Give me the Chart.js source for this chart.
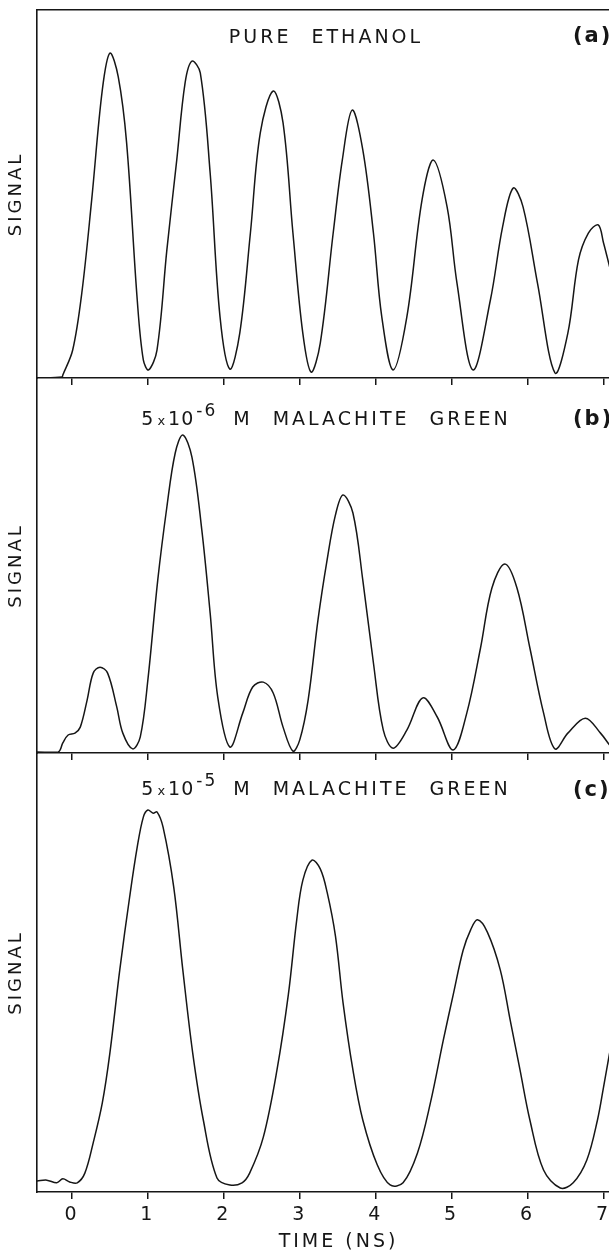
<!DOCTYPE html>
<html><head><meta charset="utf-8">
<script src="https://cdn.jsdelivr.net/npm/chart.js@4/dist/chart.umd.min.js"></script>
<style>
html,body{margin:0;padding:0;background:#fff;overflow:hidden;width:609px;height:1253px;position:relative;}
canvas{position:absolute;left:0;}
</style></head><body>
<canvas id="ca" width="640" height="390" style="top:0px"></canvas>
<canvas id="cb" width="640" height="400" style="top:365px"></canvas>
<canvas id="cc" width="640" height="513" style="top:740px"></canvas>
<script>
// ---- data (time in ns, signal in arbitrary units, 0..100 of panel height) ----
const TICK_VALUES = [0, 1, 2, 3, 4, 5, 6, 7];
const TICK_LABELS = ['0', '1', '2', '3', '4', '5', '6', '7'];
const X_TITLE = 'TIME (NS)';
const Y_TITLE = 'SIGNAL';
const PANEL_TAGS = ['(a)', '(b)', '(c)'];
const TITLE_A = 'PURE ETHANOL';
const TITLE_B = ['5', 'x', '10', '-6', 'M MALACHITE GREEN'];
const TITLE_C = ['5', 'x', '10', '-5', 'M MALACHITE GREEN'];

const TIME_A = [-0.46,-0.13,-0.12,0.01,0.13,0.26,0.40,0.50,0.61,0.72,0.86,0.94,1.01,1.12,1.25,1.38,1.49,1.58,1.69,1.82,1.95,2.08,2.21,2.35,2.48,2.65,2.78,2.91,3.04,3.15,3.27,3.44,3.56,3.69,3.83,3.97,4.08,4.23,4.41,4.61,4.76,4.94,5.07,5.28,5.51,5.67,5.81,5.94,6.13,6.36,6.53,6.67,6.80,6.93,7.00,7.08];
const SIGNAL_A = [0,0.3,0.8,7.6,23.1,48.4,78.3,88.3,81.8,63.9,21.2,4.9,2.2,7.6,34.8,59.2,80.2,86.1,82.9,55.7,16.6,2.4,12.2,39.4,66.6,78.0,69.3,39.4,12.2,1.6,9.5,39.4,59.2,72.8,62.0,39.4,16.6,2.2,16.6,48.4,59.2,46.5,25.8,2.2,21.2,41.0,51.6,46.5,25.8,1.4,12.2,32.1,39.4,41.6,36.7,30.2];

const TIME_B = [-0.46,-0.18,-0.12,-0.05,0.04,0.11,0.20,0.28,0.37,0.47,0.59,0.67,0.80,0.90,1.00,1.13,1.25,1.36,1.46,1.58,1.71,1.82,1.92,2.08,2.25,2.38,2.52,2.65,2.78,2.91,3.00,3.11,3.24,3.36,3.47,3.57,3.70,3.83,3.97,4.10,4.23,4.41,4.62,4.81,5.02,5.20,5.38,5.53,5.70,5.86,6.03,6.21,6.36,6.53,6.76,6.96,7.08];
const SIGNAL_B = [0.3,0.3,2.7,4.8,5.3,6.9,14.1,21.3,22.9,21.3,12.3,5.3,1.1,4.3,19.5,46.1,65.6,80.0,84.8,78.9,59.5,37.3,14.9,1.6,10.7,17.6,18.9,16.0,6.9,0.5,3.5,14.1,35.5,51.5,63.5,68.8,64.0,46.1,24.0,6.1,1.3,6.1,14.7,9.6,0.8,10.7,28.0,44.0,50.4,44.0,28.0,10.7,1.1,5.3,9.3,5.3,2.1];

const TIME_C = [-0.46,-0.33,-0.20,-0.12,-0.03,0.07,0.17,0.28,0.40,0.50,0.63,0.76,0.86,0.94,1.00,1.07,1.12,1.20,1.34,1.46,1.59,1.73,1.91,2.08,2.24,2.34,2.52,2.70,2.85,2.96,3.04,3.16,3.27,3.36,3.47,3.57,3.70,3.83,4.02,4.19,4.36,4.55,4.72,4.89,5.02,5.15,5.25,5.34,5.47,5.64,5.77,5.90,6.03,6.21,6.43,6.60,6.78,6.92,7.00,7.08];
const SIGNAL_C = [2.5,2.7,2.1,3.0,2.3,2.1,4.3,11.2,20.3,31.7,50.6,67.2,78.6,85.4,87.0,86.3,86.6,83.1,69.5,50.6,31.7,16.4,3.2,1.6,2.1,4.3,12.5,27.8,45.0,62.0,71.0,75.6,73.6,68.3,58.3,43.1,27.8,16.4,6.2,1.6,2.1,8.9,20.3,34.6,44.9,55.0,59.7,62.0,59.2,50.6,39.2,27.8,16.4,5.0,0.9,2.1,7.3,16.4,23.9,31.7];

const X_MIN = -0.46, X_MAX = 7.48;
const Y_MIN = 0, Y_MAX = 100;

// ---- styling ----
const INK = '#161616';
const FAM = '"DejaVu Sans", "Liberation Sans", sans-serif';

const spacingPlugin = {
  id: 'spacing',
  beforeDraw(chart) {
    chart.ctx.letterSpacing = '3px';
  }
};

const panelText = {
  id: 'panelText',
  afterDraw(chart, args, o) {
    const ctx = chart.ctx, ca = chart.chartArea;
    ctx.save();
    ctx.fillStyle = INK;
    ctx.textBaseline = 'alphabetic';
    ctx.textAlign = 'left';
    try { ctx.wordSpacing = '11px'; } catch (e) {}
    const y = ca.top + o.baseline;
    let segs;
    if (typeof o.title === 'string') {
      segs = [{t: o.title, font: '19px ' + FAM, ls: '3px', dy: 0, gap: 0}];
    } else {
      const [m, times, base, exp, rest] = o.title;
      segs = [
        {t: m, font: '19px ' + FAM, ls: '0px', dy: 0, gap: 4},
        {t: times, font: '13px ' + FAM, ls: '0px', dy: 0, gap: 3},
        {t: base, font: '19px ' + FAM, ls: '1px', dy: 0, gap: 2},
        {t: exp, font: '17px ' + FAM, ls: '2px', dy: -9, gap: 16},
        {t: rest, font: '19px ' + FAM, ls: '3px', dy: 0, gap: 0}
      ];
    }
    let total = 0;
    segs.forEach(s => {
      ctx.font = s.font; ctx.letterSpacing = s.ls;
      s.w = ctx.measureText(s.t).width;
      total += s.w + s.gap;
    });
    let x = ca.left + 289 - total / 2;
    segs.forEach(s => {
      ctx.font = s.font; ctx.letterSpacing = s.ls;
      ctx.fillText(s.t, x, y + s.dy);
      x += s.w + s.gap;
    });
    ctx.font = 'bold 21px ' + FAM;
    ctx.letterSpacing = '2px';
    ctx.fillText(o.tag, ca.left + 536, ca.top + o.tagBaseline);
    ctx.restore();
  }
};

function makeChart(id, times, values, cfg) {
  const data = times.map((t, i) => ({x: t, y: values[i]}));
  const scales = {
    x: {
      type: 'linear', position: 'bottom', min: X_MIN, max: X_MAX,
      afterBuildTicks: s => { s.ticks = TICK_VALUES.map(v => ({value: v})); },
      afterFit: s => { s.height = cfg.xAxisH; },
      ticks: {
        display: cfg.labels, autoSkip: false, maxRotation: 0, padding: 5,
        color: INK, font: {family: FAM, size: 19},
        callback: (v, i) => TICK_LABELS[i]
      },
      grid: {display: true, drawOnChartArea: false, drawTicks: true, tickLength: 7, color: INK, lineWidth: 1.5},
      border: {display: true, color: INK, width: 1.6},
      title: {display: cfg.labels, text: X_TITLE, color: INK, font: {family: FAM, size: 19}, padding: {top: 0, bottom: 0}}
    },
    y: {
      type: 'linear', position: 'left', min: Y_MIN, max: Y_MAX,
      afterFit: s => { s.width = 37; },
      ticks: {display: false},
      grid: {display: false, drawTicks: false},
      border: {display: true, color: INK, width: 1.6},
      title: {display: true, text: Y_TITLE, color: INK, font: {family: FAM, size: 18}, padding: {top: 6, bottom: 0}}
    }
  };
  if (cfg.topBorder) {
    scales.xTop = {
      type: 'linear', position: 'top', min: X_MIN, max: X_MAX,
      afterFit: s => { s.height = 0; },
      ticks: {display: false},
      grid: {display: false, drawTicks: false},
      border: {display: true, color: INK, width: 1.5}
    };
  }
  return new Chart(document.getElementById(id), {
    type: 'line',
    data: {datasets: [{
      data, borderColor: INK, borderWidth: 1.5, pointRadius: 0,
      tension: 0.35, fill: false
    }]},
    options: {
      responsive: false, animation: false, devicePixelRatio: 1, events: [],
      layout: {padding: {top: cfg.padTop, left: 0, right: 0, bottom: 0}},
      scales,
      plugins: {
        legend: {display: false}, tooltip: {enabled: false},
        panelText: {title: cfg.title, tag: cfg.tag, baseline: cfg.baseline, tagBaseline: cfg.tagBaseline}
      }
    },
    plugins: [spacingPlugin, panelText]
  });
}

makeChart('ca', TIME_A, SIGNAL_A, {padTop: 10, xAxisH: 12, labels: false, topBorder: true,
  title: TITLE_A, tag: PANEL_TAGS[0], baseline: 33, tagBaseline: 32});
makeChart('cb', TIME_B, SIGNAL_B, {padTop: 13, xAxisH: 12, labels: false, topBorder: false,
  title: TITLE_B, tag: PANEL_TAGS[1], baseline: 47, tagBaseline: 47});
makeChart('cc', TIME_C, SIGNAL_C, {padTop: 13, xAxisH: 61, labels: true, topBorder: false,
  title: TITLE_C, tag: PANEL_TAGS[2], baseline: 42, tagBaseline: 43});
</script>
</body></html>
